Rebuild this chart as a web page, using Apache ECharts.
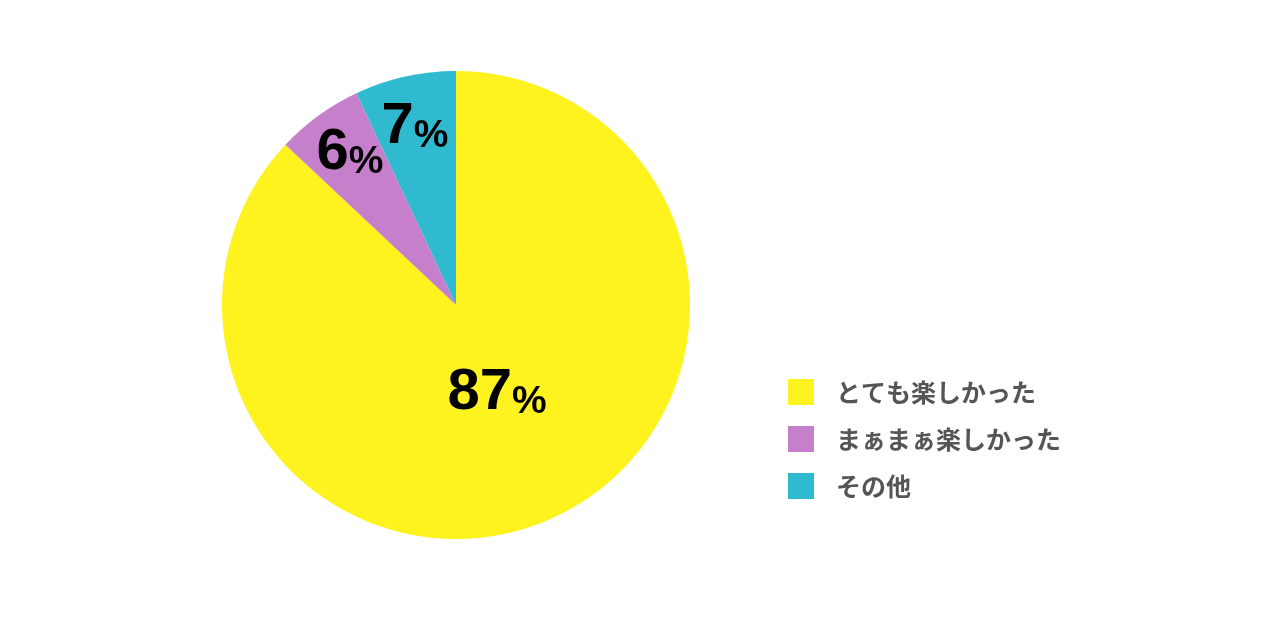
<!DOCTYPE html>
<html><head><meta charset="utf-8">
<script src="https://cdn.jsdelivr.net/npm/echarts@6/dist/echarts.min.js"></script>
<style>html,body{margin:0;padding:0;background:#fff}#c{width:1280px;height:618px}</style>
</head><body><div id="c"></div>
<script>
const categories = ['とても楽しかった', 'まぁまぁ楽しかった', 'その他'];
const values = [87, 6, 7];
const colors = ['#FFF31F', '#C57FCB', '#2FBAD0'];
const labelOffsets = [[41, 88], [-106, -152], [-41, -178]];

const chart = echarts.init(document.getElementById('c'));
chart.setOption({
  backgroundColor: '#fff',
  animation: false,
  legend: {
    orient: 'vertical',
    left: 788,
    top: 379,
    padding: 0,
    itemWidth: 26,
    itemHeight: 26,
    itemGap: 21,
    icon: 'rect',
    data: categories,
    textStyle: { fontFamily: 'Noto Sans CJK JP', fontWeight: 'bold', fontSize: 25, color: '#555', padding: [0, 0, 0, 17] }
  },
  series: [{
    type: 'pie',
    center: [456, 305],
    radius: 234,
    startAngle: 90,
    clockwise: true,
    silent: true,
    avoidLabelOverlap: false,
    labelLayout: function () { return { hideOverlap: false }; },
    labelLine: { show: false },
    label: {
      show: true,
      position: 'center',
      formatter: p => '{n|' + p.value + '}{p|%}',
      rich: {
        n: { fontFamily: 'Liberation Sans', fontWeight: 'bold', fontSize: 58, color: '#000', verticalAlign: 'bottom', lineHeight: 58 },
        p: { fontFamily: 'Liberation Sans', fontWeight: 'bold', fontSize: 39, color: '#000', verticalAlign: 'bottom', lineHeight: 52 }
      }
    },
    data: categories.map((c, i) => ({
      name: c, value: values[i],
      itemStyle: { color: colors[i] },
      label: { offset: labelOffsets[i] }
    }))
  }]
});
</script></body></html>
